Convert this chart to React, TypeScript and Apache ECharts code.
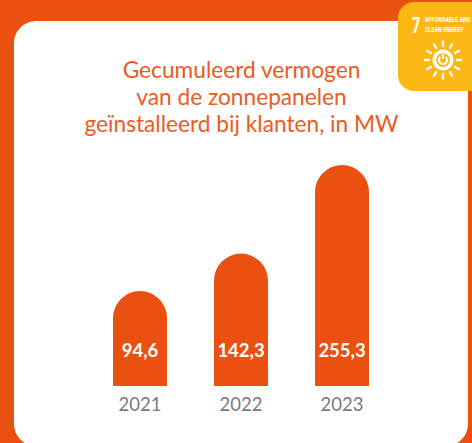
import React, { useEffect, useRef } from "react";
import * as echarts from "echarts";

const years = ["2021", "2022", "2023"];
const capacity = [94.6, 142.3, 255.3];
const valueLabels = ["94,6", "142,3", "255,3"];
const titleLines = ["Gecumuleerd vermogen", "van de zonnepanelen", "geïnstalleerd bij klanten, in MW"];
const badgeNumber = "7";
const badgeLines = ["AFFORDABLE AND", "CLEAN ENERGY"];

const ORANGE = "#EA500F";
const YELLOW = "#FDB713";
const GRAY = "#7A7A7A";
const axisMin = -26.5;
const axisMax = 255.3;

function sunIcon(cx: number, cy: number) {
  const rays: any[] = [];
  for (let i = 0; i < 12; i++) {
    const a = (i * Math.PI) / 6;
    const r0 = 13;
    const r1 = i % 2 === 0 ? 19.5 : 19;
    rays.push({
      type: "line",
      z: 5,
      shape: {
        x1: cx + r0 * Math.sin(a),
        y1: cy - r0 * Math.cos(a),
        x2: cx + r1 * Math.sin(a),
        y2: cy - r1 * Math.cos(a),
      },
      style: { stroke: "#fff", lineWidth: 2.3 },
    });
  }
  return [
    ...rays,
    { type: "circle", z: 5, shape: { cx, cy, r: 10.5 }, style: { fill: "#fff" } },
    { type: "circle", z: 6, shape: { cx, cy, r: 6.8 }, style: { fill: YELLOW } },
    {
      type: "arc",
      z: 7,
      shape: { cx, cy, r: 4, startAngle: -Math.PI / 2 + 0.7, endAngle: -Math.PI / 2 - 0.7 + Math.PI * 2 },
      style: { stroke: "#fff", lineWidth: 2, fill: "none" },
    },
    { type: "line", z: 7, shape: { x1: cx, y1: cy - 6, x2: cx, y2: cy - 1 }, style: { stroke: "#fff", lineWidth: 1.8 } },
  ];
}

export default function App() {
  const ref = useRef<HTMLDivElement>(null);
  useEffect(() => {
    document.body.style.margin = "0";
    document.body.style.background = ORANGE;
    const chart = echarts.init(ref.current!, null, { renderer: "svg" });
    chart.setOption({
      animation: false,
      backgroundColor: ORANGE,
      title: {
        text: titleLines.join("\n"),
        left: 241.5,
        top: 56,
        padding: 0,
        textAlign: "center",
        textStyle: {
          color: "#EE5A22",
          fontFamily: "Lato",
          fontWeight: 400,
          fontSize: 22.7,
          lineHeight: 27,
        },
      },
      grid: { left: 89.5, width: 303, top: 165, height: 221 },
      xAxis: {
        type: "category",
        data: years,
        axisLine: { show: false },
        axisTick: { show: false },
        axisLabel: { color: GRAY, fontFamily: "Lato", fontSize: 18.5, margin: 8 },
      },
      yAxis: { type: "value", min: axisMin, max: axisMax, show: false, splitLine: { show: false } },
      series: [
        {
          type: "custom",
          data: capacity.map((v, i) => [i, v]),
          encode: { x: 0, y: 1 },
          z: 3,
          renderItem: (params: any, api: any) => {
            const i = api.value(0);
            const top = api.coord([i, api.value(1)]);
            const base = api.coord([i, axisMin]);
            const w = 54;
            return {
              type: "group",
              children: [
                {
                  type: "rect",
                  shape: { x: top[0] - w / 2, y: top[1], width: w, height: base[1] - top[1], r: [27, 27, 0, 0] },
                  style: { fill: ORANGE },
                },
                {
                  type: "text",
                  z2: 10,
                  style: {
                    text: valueLabels[params.dataIndex],
                    x: top[0],
                    y: base[1] - 36,
                    align: "center",
                    verticalAlign: "middle",
                    fill: "#fff",
                    font: "700 18.5px Lato",
                  },
                },
              ],
            };
          },
        },
      ],
      graphic: [
        {
          type: "rect",
          z: -2,
          silent: true,
          shape: { x: 14, y: 21, width: 454, height: 425, r: 22 },
          style: { fill: "#fff" },
        },
        {
          type: "rect",
          z: 4,
          shape: { x: 398, y: 2, width: 74, height: 89, r: [16, 0, 0, 16] },
          style: { fill: YELLOW },
        },
        {
          type: "text",
          z: 5,
          x: 416,
          y: 25.5,
          scaleX: 0.68,
          style: {
            text: badgeNumber,
            fill: "#fff",
            font: "700 22px Roboto",
            align: "center",
            verticalAlign: "middle",
          },
        },
        {
          type: "text",
          z: 5,
          x: 425,
          y: 20,
          scaleX: 0.72,
          style: { text: badgeLines[0], fill: "#fff", font: "700 7.5px Roboto", verticalAlign: "middle" },
        },
        {
          type: "text",
          z: 5,
          x: 425,
          y: 30,
          scaleX: 0.72,
          style: { text: badgeLines[1], fill: "#fff", font: "700 7.5px Roboto", verticalAlign: "middle" },
        },
        ...sunIcon(443, 60),
      ],
    });
    return () => chart.dispose();
  }, []);
  return <div ref={ref} style={{ width: 472, height: 443 }} />;
}
